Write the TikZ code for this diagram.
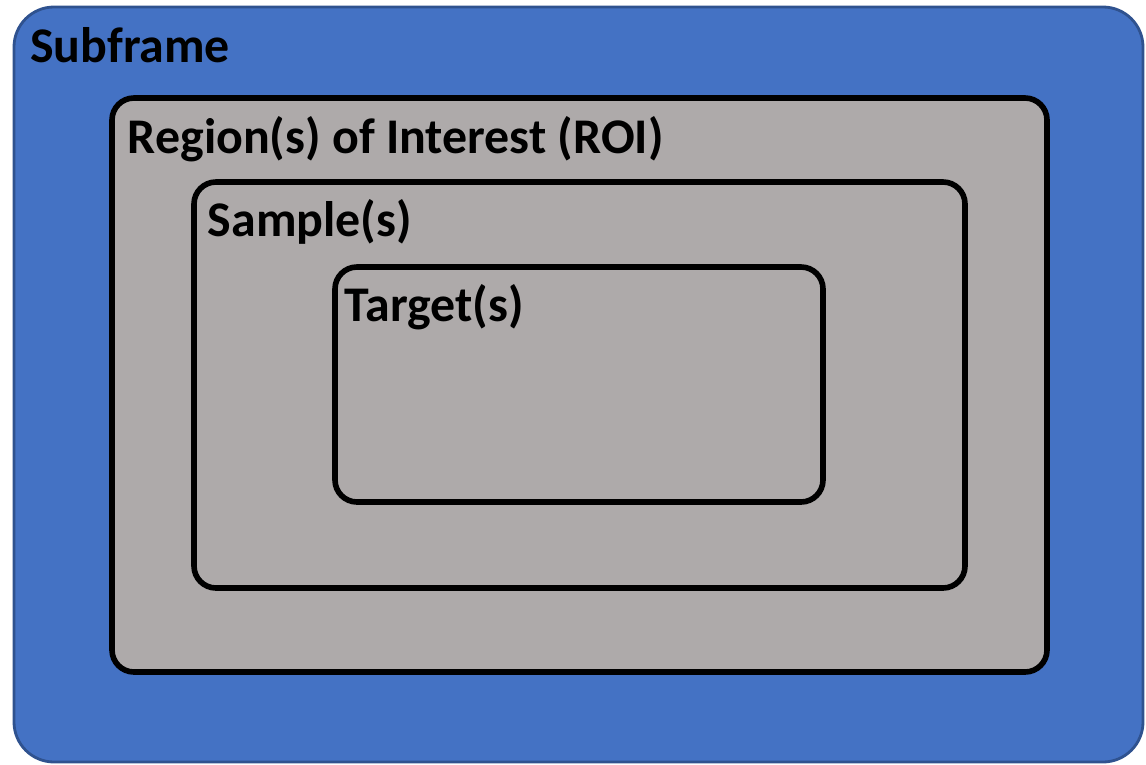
\documentclass[tikz,border=0pt]{standalone}
\usepackage{fontspec}
\setmainfont{Carlito}
\definecolor{FrameBlue}{HTML}{4472C4}
\definecolor{FrameEdge}{HTML}{2F528F}
\definecolor{BoxGray}{HTML}{AEAAAA}
\usetikzlibrary{positioning,calc}

\tikzset{
  framebox/.style={draw=FrameEdge, fill=FrameBlue, line width=0.8pt, rounded corners=0.4cm, inner sep=0pt},
  levelbox/.style={draw=black, fill=BoxGray, line width=1.6pt, rounded corners=0.22cm, inner sep=0pt},
  levellabel/.style={anchor=base west, inner sep=0pt, font=\fontsize{14.2}{17}\selectfont\bfseries}
}

\begin{document}
\begin{tikzpicture}
  \useasboundingbox (0,0) rectangle (11.46,7.64);
  %% nested boxes
  \node[framebox, minimum width=11.29cm, minimum height=7.55cm] (subframe) at (5.785, 3.795) {};
  \node[levelbox, minimum width=9.35cm, minimum height=5.74cm] (roi) at (5.795, 3.79) {};
  \node[levelbox, minimum width=7.71cm, minimum height=4.06cm] (sample) at (5.795, 3.79) {};
  \node[levelbox, minimum width=4.88cm, minimum height=2.35cm] (target) at (5.79, 3.795) {};
  %% labels
  \node[levellabel] (subframelbl) at ($(subframe.north west)+(0.17,-0.57)$) {Subframe};
  \node[levellabel] (roilbl) at ($(roi.north west)+(0.18,-0.58)$) {Region(s) of Interest (ROI)};
  \node[levellabel] (samplelbl) at ($(sample.north west)+(0.16,-0.57)$) {Sample(s)};
  \node[levellabel] (targetlbl) at ($(target.north west)+(0.12,-0.57)$) {Target(s)};
\end{tikzpicture}
\end{document}
